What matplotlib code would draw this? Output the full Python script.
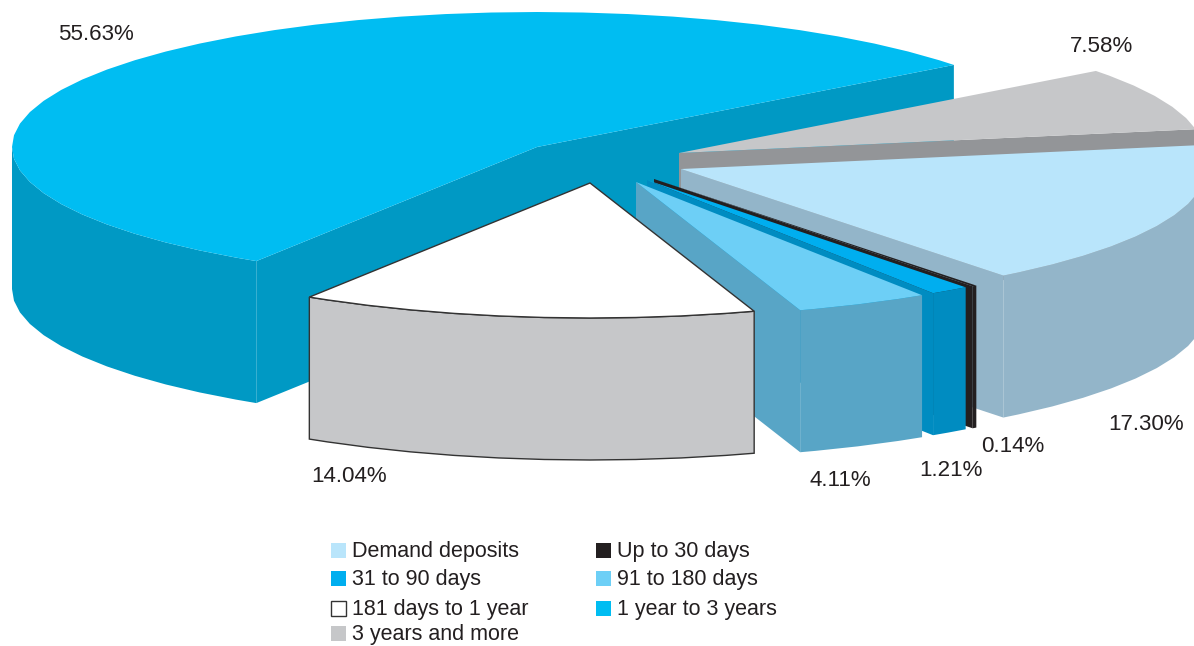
import numpy as np
import matplotlib
matplotlib.use('Agg')
import matplotlib.pyplot as plt
from matplotlib.patches import Polygon, Rectangle

plt.rcParams['font.family'] = ['Liberation Sans', 'DejaVu Sans']

# Define data, legend order (runs clockwise round the pie)
categories = ['Demand deposits', 'Up to 30 days', '31 to 90 days', '91 to 180 days',
              '181 days to 1 year', '1 year to 3 years', '3 years and more']
shares = [17.30, 0.14, 1.21, 4.11, 14.04, 55.63, 7.58]

# Styles per slice
top_colors = ['#B9E5FB', '#231F20', '#00AEEF', '#6DCFF6', '#FFFFFF', '#00BDF2', '#C6C7C9']
wall_colors = ['#93B5C9', '#231F20', '#008CC1', '#58A5C6', '#C6C7C9', '#0099C4', '#939598']
edge_colors = [None, None, None, None, '#333333', None, None]

# Exploded position of each slice's point, in pixels
apex_x = [681, 654, 647, 636, 590, 537, 679]
apex_y = [169, 179, 180, 182, 183, 147, 153]

# Percent labels: left edge and middle height, in pixels
label_x = [1108, 981, 919, 810, 311, 58, 1070]
label_y = [425, 447, 470, 480, 476, 35, 47]

# Legend layout, in pixels
legend_x = [331, 596, 331, 596, 331, 596, 331]
legend_y = [543, 543, 571, 571, 601, 601, 626]
legend_order = [0, 1, 2, 3, 4, 5, 6]

# Pie geometry
radius_x = 525
radius_y = 135
depth = 142
start_angle = 10.15
draw_order = [5, 6, 0, 1, 2, 3, 4]
rim_step = 5


def rim_angles(lo, hi):
    # coarse steps so the rim stays faceted like the original
    first = np.ceil(lo / rim_step) * rim_step
    grid = np.arange(first, hi, rim_step)
    return np.unique(np.concatenate([[lo], grid, [hi]]))


def rim_points(cx, cy, angles):
    rad = np.radians(angles)
    return np.column_stack([cx + radius_x * np.cos(rad), cy - radius_y * np.sin(rad)])


def draw_wall(ax, upper, color, edge):
    lower = upper[::-1] + np.array([0, depth])
    ax.add_patch(Polygon(np.vstack([upper, lower]), closed=True, facecolor=color,
                         edgecolor=edge if edge else 'none', linewidth=1.0 if edge else 0))


def draw_slice(ax, lo, hi, cx, cy, top, wall, edge):
    angles = rim_angles(lo, hi)
    rim = rim_points(cx, cy, angles)
    apex = np.array([[cx, cy]])

    # cut faces, only those turned to the viewer
    if np.cos(np.radians(hi)) < 0:
        draw_wall(ax, np.vstack([apex, rim_points(cx, cy, [hi])]), wall, edge)
    if np.cos(np.radians(lo)) > 0:
        draw_wall(ax, np.vstack([apex, rim_points(cx, cy, [lo])]), wall, edge)

    # outer wall, front half only
    front = np.sin(np.radians(angles)) <= 1e-9
    if front.sum() > 1:
        draw_wall(ax, rim[front], wall, edge)

    ax.add_patch(Polygon(np.vstack([apex, rim]), closed=True, facecolor=top,
                         edgecolor=edge if edge else 'none', linewidth=1.0 if edge else 0))


fig = plt.figure(figsize=(11.94, 6.46), dpi=100)
ax = fig.add_axes([0, 0, 1, 1])
ax.set_xlim(0, 1194)
ax.set_ylim(646, 0)
ax.axis('off')

# Slice angles, going clockwise from the start angle
spans = np.array(shares) / sum(shares) * 360
upper_angles = start_angle - np.concatenate([[0], np.cumsum(spans)[:-1]])
lower_angles = upper_angles - spans

for i in draw_order:
    draw_slice(ax, lower_angles[i], upper_angles[i], apex_x[i], apex_y[i],
               top_colors[i], wall_colors[i], edge_colors[i])

for i, value in enumerate(shares):
    ax.text(label_x[i], label_y[i], f'{value:.2f}%', fontsize=16.1, color='#231F20',
            ha='left', va='center')

# Legend
for i in legend_order:
    edge = '#333333' if top_colors[i] == '#FFFFFF' else 'none'
    ax.add_patch(Rectangle((legend_x[i], legend_y[i]), 15, 15, facecolor=top_colors[i],
                           edgecolor=edge, linewidth=1.0))
    ax.text(legend_x[i] + 21, legend_y[i] + 8.5, categories[i], fontsize=15.5, color='#231F20',
            ha='left', va='center')

fig.savefig('out.png', dpi=100)
